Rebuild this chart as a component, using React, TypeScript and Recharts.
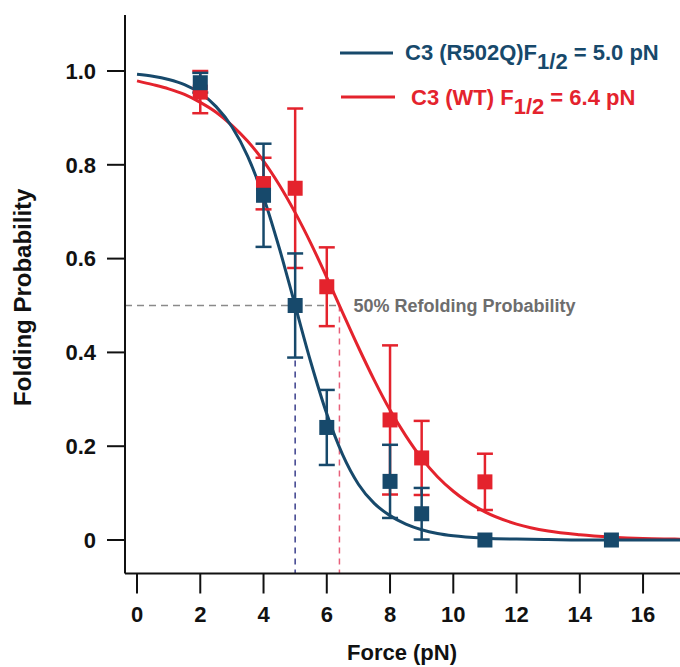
import React from "react";
import {
  ComposedChart,
  Line,
  Scatter,
  XAxis,
  YAxis,
  ErrorBar,
  ReferenceLine,
} from "recharts";

// fitted curves
const fitForce = [
  0, 0.5, 1, 1.5, 2, 2.5, 3, 3.5, 4, 4.5, 5, 5.5, 6, 6.5, 7, 7.5, 8, 8.5, 9, 9.5,
  10, 11, 12, 13, 14, 15, 16, 17, 18,
];
const mutantFit = [
  0.993, 0.989, 0.982, 0.971, 0.953, 0.924, 0.881, 0.818, 0.731, 0.622, 0.5,
  0.378, 0.269, 0.182, 0.119, 0.078, 0.052, 0.034, 0.022, 0.014, 0.009, 0.004,
  0.002, 0.001, 0, 0, 0, 0, 0,
];
const wtFit = [
  0.979, 0.971, 0.962, 0.95, 0.933, 0.912, 0.884, 0.85, 0.808, 0.757, 0.698,
  0.632, 0.56, 0.485, 0.411, 0.341, 0.277, 0.222, 0.174, 0.135, 0.104, 0.06,
  0.034, 0.019, 0.011, 0.006, 0.003, 0.002, 0.001,
];

// measured points
const mutantForce = [2, 4, 5, 6, 8, 9, 11, 15];
const mutantProb = [0.975, 0.735, 0.5, 0.24, 0.125, 0.056, 0, 0];
const mutantErr = [0.021, 0.11, 0.111, 0.08, 0.078, 0.055, null, null];

const wtForce = [2, 4, 5, 6, 8, 9, 11];
const wtProb = [0.955, 0.76, 0.75, 0.54, 0.256, 0.175, 0.124];
const wtErr = [0.045, 0.055, 0.17, 0.084, 0.159, 0.079, 0.06];

const xTicks = [0, 2, 4, 6, 8, 10, 12, 14, 16];
const yTicks = [0, 0.2, 0.4, 0.6, 0.8, 1.0];

const mutantHalf = 5.0;
const wtHalf = 6.4;

const BLUE = "#17496b";
const RED = "#e4232d";
const FONT = "'Liberation Sans', Arial, sans-serif";

const xMin = -0.38;
const xMax = 17.5;
const yMin = -0.0714;
const yMax = 1.1194;

const mutantCurve = fitForce.map((x, i) => ({ x, y: mutantFit[i] }));
const wtCurve = fitForce.map((x, i) => ({ x, y: wtFit[i] }));
const mutantPoints = mutantForce.map((x, i) => ({
  x,
  y: mutantProb[i],
  err: mutantErr[i],
}));
const wtPoints = wtForce.map((x, i) => ({ x, y: wtProb[i], err: wtErr[i] }));

const square = (color: string) => (props: any) => {
  const { cx, cy } = props;
  if (cx == null || cy == null) return <g />;
  return <rect x={cx - 7.5} y={cy - 7.5} width={15} height={15} fill={color} />;
};

const YLabel = (props: any) => {
  const { x, y, height } = props.viewBox;
  const cx = x + 22;
  const cy = y + height / 2 + 3;
  return (
    <text
      x={cx}
      y={cy}
      transform={`rotate(-90, ${cx}, ${cy})`}
      textAnchor="middle"
      dominantBaseline="central"
      fontFamily={FONT}
      fontWeight="bold"
      fontSize={24}
      fill="#111"
    >
      Folding Probability
    </text>
  );
};

const XLabel = (props: any) => {
  const { x, y } = props.viewBox;
  return (
    <text
      x={x + 277}
      y={y + 86}
      textAnchor="middle"
      fontFamily={FONT}
      fontWeight="bold"
      fontSize={22}
      fill="#111"
    >
      Force (pN)
    </text>
  );
};

const tickStyle = { fill: "#111", fontSize: 22, fontWeight: "bold", fontFamily: FONT };

export default function App() {
  return (
    <div
      style={{
        position: "absolute",
        left: 0,
        top: 0,
        width: 680,
        height: 667,
        overflow: "hidden",
        background: "#fff",
      }}
    >
      <ComposedChart
        width={700}
        height={667}
        margin={{ top: 15, right: 9.5, left: 0, bottom: 0 }}
      >
        <XAxis
          dataKey="x"
          type="number"
          domain={[xMin, xMax]}
          ticks={xTicks}
          allowDataOverflow
          height={93.5}
          tickSize={20}
          tickMargin={13}
          tick={tickStyle}
          stroke="#111"
          strokeWidth={2}
          label={<XLabel />}
        />
        <XAxis
          xAxisId="top"
          type="number"
          domain={[xMin, xMax]}
          orientation="top"
          height={0}
          tick={false}
          tickLine={false}
          stroke="#111"
          strokeWidth={2}
        />
        <YAxis
          type="number"
          domain={[yMin, yMax]}
          ticks={yTicks}
          allowDataOverflow
          width={125}
          tickSize={18}
          tickMargin={11}
          tick={tickStyle}
          tickFormatter={(v: number) => (v === 0 ? "0" : v.toFixed(1))}
          stroke="#111"
          strokeWidth={2}
          label={<YLabel />}
        />
        <ReferenceLine
          segment={[
            { x: xMin, y: 0.5 },
            { x: wtHalf, y: 0.5 },
          ]}
          stroke="#8a8a8a"
          strokeWidth={1.5}
          strokeDasharray="7 5"
          label={{
            value: "50% Refolding Probability",
            position: "right",
            offset: 14,
            fill: "#6d6d6d",
            fontSize: 18,
            fontWeight: "bold",
            fontFamily: FONT,
          }}
        />
        <ReferenceLine
          segment={[
            { x: mutantHalf, y: 0.5 },
            { x: mutantHalf, y: yMin },
          ]}
          stroke="#3b3f8c"
          strokeWidth={1.5}
          strokeDasharray="6 5"
        />
        <ReferenceLine
          segment={[
            { x: wtHalf, y: 0.5 },
            { x: wtHalf, y: yMin },
          ]}
          stroke="#e8607a"
          strokeWidth={1.5}
          strokeDasharray="6 5"
        />
        <Line
          data={wtCurve}
          dataKey="y"
          type="monotone"
          stroke={RED}
          strokeWidth={3}
          dot={false}
          isAnimationActive={false}
        />
        <Line
          data={mutantCurve}
          dataKey="y"
          type="monotone"
          stroke={BLUE}
          strokeWidth={3}
          dot={false}
          isAnimationActive={false}
        />
        <Scatter
          data={wtPoints}
          dataKey="y"
          shape={square(RED)}
          isAnimationActive={false}
        >
          <ErrorBar dataKey="err" direction="y" width={8} stroke={RED} strokeWidth={2.5} />
        </Scatter>
        <Scatter
          data={mutantPoints}
          dataKey="y"
          shape={square(BLUE)}
          isAnimationActive={false}
        >
          <ErrorBar dataKey="err" direction="y" width={8} stroke={BLUE} strokeWidth={2.5} />
        </Scatter>
      </ComposedChart>

      <svg
        width={680}
        height={667}
        style={{ position: "absolute", left: 0, top: 0, pointerEvents: "none" }}
      >
        <line x1={340} x2={393} y1={53} y2={53} stroke={BLUE} strokeWidth={3} />
        <text x={405} y={60} fontFamily={FONT} fontWeight="bold" fontSize={22} fill={BLUE}>
          C3 (R502Q)F
          <tspan dy={9}>1/2</tspan>
          <tspan dy={-9}> = 5.0 pN</tspan>
        </text>
        <line x1={341} x2={395} y1={97} y2={97} stroke={RED} strokeWidth={3} />
        <text x={411} y={105} fontFamily={FONT} fontWeight="bold" fontSize={22} fill={RED}>
          C3 (WT) F
          <tspan dy={9}>1/2</tspan>
          <tspan dy={-9}> = 6.4 pN</tspan>
        </text>
      </svg>
    </div>
  );
}
